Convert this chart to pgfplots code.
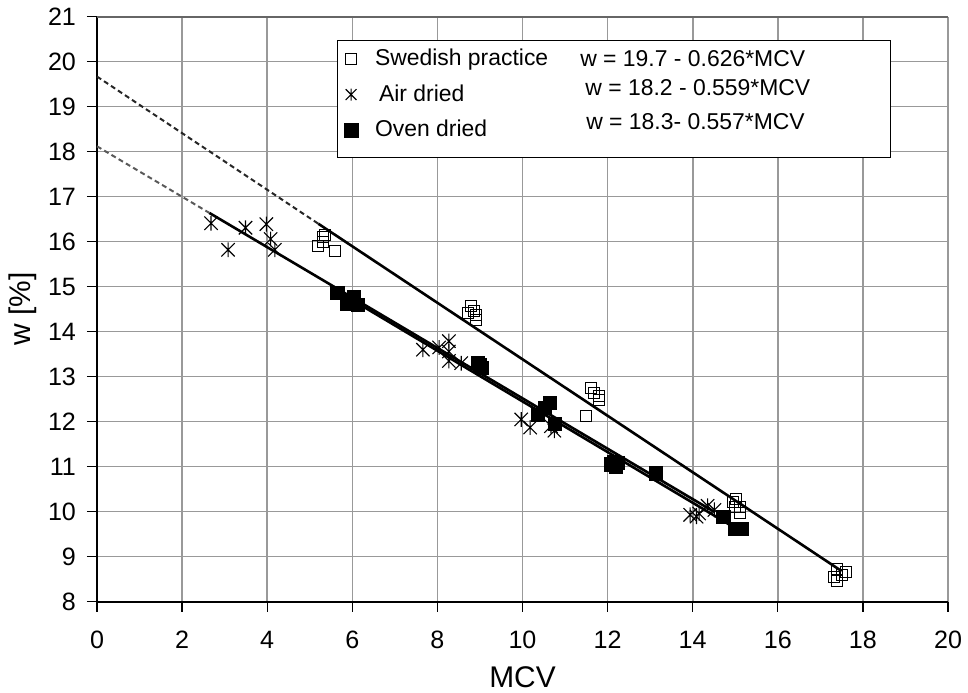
\documentclass[border=0pt]{standalone}
\usepackage{fontspec}
\setmainfont{Liberation Sans}
\usepackage{pgfplots}
\pgfplotsset{compat=1.18}
\pgfdeclareplotmark{xstar}{%
  \pgfpathmoveto{\pgfqpoint{0pt}{-\pgfplotmarksize}}%
  \pgfpathlineto{\pgfqpoint{0pt}{\pgfplotmarksize}}%
  \pgfpathmoveto{\pgfqpoint{-0.9\pgfplotmarksize}{-0.9\pgfplotmarksize}}%
  \pgfpathlineto{\pgfqpoint{0.9\pgfplotmarksize}{0.9\pgfplotmarksize}}%
  \pgfpathmoveto{\pgfqpoint{-0.9\pgfplotmarksize}{0.9\pgfplotmarksize}}%
  \pgfpathlineto{\pgfqpoint{0.9\pgfplotmarksize}{-0.9\pgfplotmarksize}}%
  \pgfusepathqstroke}
\begin{document}
\begin{tikzpicture}
\begin{axis}[
  scale only axis,
  width=425.5bp, height=292.5bp,
  xmin=0, xmax=20, ymin=8, ymax=21,
  xtick={0,2,...,20}, ytick={8,9,...,21},
  axis x line=bottom, axis y line=left,
  axis line style={-, line width=1bp, black},
  tick align=outside, major tick length=5bp,
  tick style={black, line width=0.6bp},
  grid=major,
  major grid style={black!40, line width=0.8bp},
  /pgf/number format/assume math mode=true,
  tick label style={font=\fontsize{12.6}{15}\selectfont},
  xticklabel style={yshift=-6bp},
  yticklabel style={xshift=-2bp},
  label style={font=\fontsize{15}{18}\selectfont},
  xlabel={MCV}, ylabel={w [\%]},
  xlabel style={at={(axis description cs:0.5,0)}, anchor=center, yshift=-37.75bp},
  ylabel style={at={(axis description cs:0,0.5)}, anchor=center, yshift=37bp},
  legend style={at={(axis cs:5.75,20.42)}, anchor=north west, draw=none, fill=none,
    font=\fontsize{11.5}{13.8}\selectfont, row sep=4bp, inner sep=1bp},
  legend cell align=left,
  clip=false,
]
\coordinate (BL) at (rel axis cs:0,0);
\coordinate (TR) at (rel axis cs:1,1);
\draw[black!60, line width=1bp] (rel axis cs:0,1) -- (rel axis cs:1,1);
% regression lines
\addplot[forget plot, black, line width=1.3bp] coordinates {(5.2,16.40) (17.5,8.68)};
\addplot[forget plot, black!85, line width=1bp, dash pattern=on 2.5bp off 1.7bp] coordinates {(0,19.67) (5.2,16.40)};
\addplot[forget plot, black, line width=1.3bp] coordinates {(2.64,16.64) (14.5,10.00)};
\addplot[forget plot, black!65, line width=1bp, dash pattern=on 2.5bp off 1.7bp] coordinates {(0,18.12) (2.64,16.64)};
\addplot[forget plot, black, line width=1.3bp] coordinates {(5.65,14.90) (15.1,9.58)};
% legend box
\draw[fill=white, line width=0.5bp] (axis cs:5.66,20.48) rectangle (axis cs:18.64,17.86);
% Swedish practice
\addplot[only marks, mark=square, mark size=2.75bp, mark options={black, line width=0.5bp}] coordinates {
(5.2,15.9) (5.3,16.1) (5.35,16.15) (5.3,16.0) (5.6,15.8)
(8.72,14.41) (8.8,14.56) (8.85,14.45) (8.9,14.26) (8.9,14.38)
(11.5,12.13) (11.6,12.74) (11.69,12.64) (11.79,12.48) (11.79,12.56)
(14.94,10.22) (15.02,10.28) (15.1,10.11) (15.1,9.96) (15.0,10.1)
(17.32,8.55) (17.4,8.72) (17.4,8.45) (17.6,8.65) (17.5,8.6)};
\addlegendentry{\hspace{6.5bp}Swedish practice}
% Air dried
\addplot[only marks, mark=xstar, mark size=3.7bp, mark options={black, line width=0.55bp},
  legend image post style={mark size=3bp}] coordinates {
(2.68,16.41) (3.08,15.82) (3.49,16.31) (3.98,16.39) (4.08,16.06) (4.18,15.82)
(7.66,13.6) (8.04,13.65) (8.27,13.79) (8.27,13.56) (8.27,13.35) (8.56,13.3)
(9.97,12.05) (10.18,11.87) (10.67,11.9) (10.75,11.8)
(13.94,9.93) (14.09,9.89) (14.15,9.96) (14.35,10.13) (14.51,10.04)};
\addlegendentry{\hspace{8.5bp}Air dried}
% Oven dried
\addplot[only marks, mark=square*, mark size=3.3bp, mark options={black, fill=black},
  legend image post style={mark size=3.5bp}] coordinates {
(5.65,14.87) (5.87,14.63) (6.03,14.78) (6.13,14.6) (6.0,14.62) (5.9,14.7)
(8.95,13.3) (9.05,13.2) (9.0,13.25)
(10.37,12.15) (10.53,12.30) (10.65,12.41) (10.76,11.96)
(12.08,11.05) (12.24,11.08) (12.2,11.0) (12.15,11.1)
(13.14,10.85) (14.72,9.89) (15.0,9.62) (15.15,9.62)};
\addlegendentry{\hspace{6.5bp}Oven dried}
\node[anchor=west, font=\fontsize{11.5}{13.8}\selectfont, inner sep=0pt] at (axis cs:11.35,20.07) {w = 19.7 - 0.626*MCV};
\node[anchor=west, font=\fontsize{11.5}{13.8}\selectfont, inner sep=0pt] at (axis cs:11.47,19.42) {w = 18.2 - 0.559*MCV};
\node[anchor=west, font=\fontsize{11.5}{13.8}\selectfont, inner sep=0pt] at (axis cs:11.49,18.66) {w = 18.3- 0.557*MCV};
\end{axis}
\pgfresetboundingbox
\path ([shift={(-48.5bp,-45.5bp)}]BL) rectangle ([shift={(10bp,8.35bp)}]TR);
\end{tikzpicture}
\end{document}
